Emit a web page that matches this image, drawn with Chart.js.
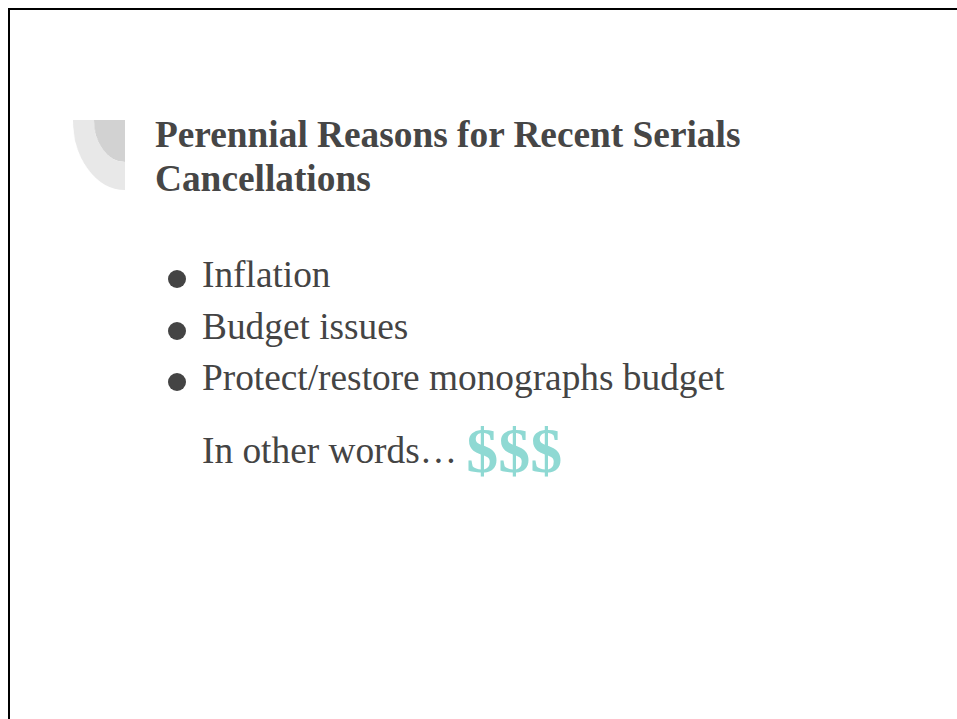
<!DOCTYPE html>
<html>
<head>
<meta charset="utf-8">
<script src="https://cdn.jsdelivr.net/npm/chart.js@4.4.1/dist/chart.umd.min.js"></script>
<style>
  html, body { margin:0; padding:0; background:#fff; width:957px; height:719px; overflow:hidden; }
  #frame { position:absolute; left:8px; top:8px; width:1000px; height:800px; border-top:2px solid #000; border-left:2px solid #000; }
  #deco { position:absolute; left:55px; top:120px; width:70px; height:70px; transform:scaleX(0.743); transform-origin:right top; }
  .title { position:absolute; left:155px; top:113px; font-family:"Liberation Serif","Times New Roman",serif; font-weight:bold; font-size:37.33px; line-height:43.5px; color:#464646; white-space:nowrap; }
  .body { position:absolute; left:202px; font-family:"Liberation Serif","Times New Roman",serif; font-size:37.33px; color:#444; white-space:nowrap; }
  ul.body { top:249px; margin:0; padding:0; list-style:none; line-height:51.5px; }
  ul.body li { position:relative; }
  ul.body li::before { content:""; position:absolute; left:-34px; top:21px; width:18px; height:18px; border-radius:50%; background:#444; }
  #other { top:425px; line-height:51.5px; }
  #money { font-weight:bold; font-size:64px; line-height:0; color:#8fd9d3; vertical-align:-9px; }
</style>
</head>
<body>
<div id="frame"></div>
<div id="deco"><canvas id="c"></canvas></div>
<div class="title" id="title"></div>
<ul class="body" id="list"></ul>
<div class="body" id="other"></div>
<script>
const titleLines = ["Perennial Reasons for Recent Serials", "Cancellations"];
const bulletItems = ["Inflation", "Budget issues", "Protect/restore monographs budget"];
const closingText = "In other words\u2026";
const closingMark = "$$$";
// decorative quarter shape: outer light band and inner darker core
const decoLabels = ["corner"];
const outerBand = [1];
const innerCore = [1];

const title = document.getElementById("title");
titleLines.forEach((t, i) => { if (i) title.appendChild(document.createElement("br")); title.appendChild(document.createTextNode(t)); });
const list = document.getElementById("list");
bulletItems.forEach(t => { const li = document.createElement("li"); li.textContent = t; list.appendChild(li); });
const other = document.getElementById("other");
other.appendChild(document.createTextNode(closingText + " "));
const m = document.createElement("span"); m.id = "money"; m.textContent = closingMark; other.appendChild(m);

new Chart(document.getElementById("c"), {
  type: "pie",
  data: {
    labels: decoLabels,
    datasets: [
      { data: outerBand, backgroundColor: "#e8e8e8", borderWidth: 0, weight: 0.4 },
      { data: innerCore, backgroundColor: "#d2d2d2", borderWidth: 0, weight: 0.6 }
    ]
  },
  options: {
    responsive: true,
    maintainAspectRatio: false,
    animation: false,
    rotation: 180,
    circumference: 90,
    layout: { padding: 0 },
    events: [],
    plugins: { legend: { display: false }, tooltip: { enabled: false } }
  }
});
</script>
</body>
</html>
